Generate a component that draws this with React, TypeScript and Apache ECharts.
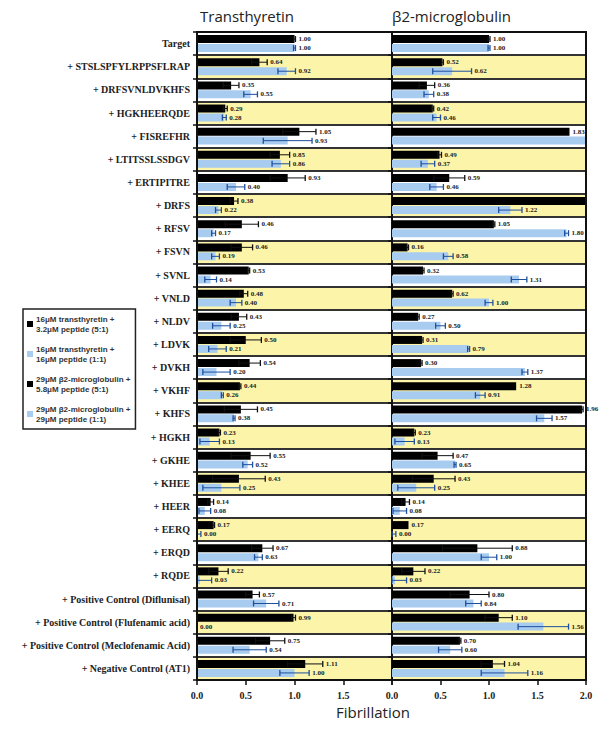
import React, { useEffect, useRef } from "react";
import * as echarts from "echarts";

const categories = [
  "Target",
  "+ STSLSPFYLRPPSFLRAP",
  "+ DRFSVNLDVKHFS",
  "+ HGKHEERQDE",
  "+ FISREFHR",
  "+ LTITSSLSSDGV",
  "+ ERTIPITRE",
  "+ DRFS",
  "+ RFSV",
  "+ FSVN",
  "+ SVNL",
  "+ VNLD",
  "+ NLDV",
  "+ LDVK",
  "+ DVKH",
  "+ VKHF",
  "+ KHFS",
  "+ HGKH",
  "+ GKHE",
  "+ KHEE",
  "+ HEER",
  "+ EERQ",
  "+ ERQD",
  "+ RQDE",
  "+ Positive Control (Diflunisal)",
  "+ Positive Control (Flufenamic acid)",
  "+ Positive Control (Meclofenamic Acid)",
  "+ Negative Control (AT1)",
];

const ttr51 = [1.0, 0.64, 0.35, 0.29, 1.05, 0.85, 0.93, 0.38, 0.46, 0.46, 0.53, 0.48, 0.43, 0.5, 0.54, 0.44, 0.45, 0.23, 0.55, 0.43, 0.14, 0.17, 0.67, 0.22, 0.57, 0.99, 0.75, 1.11];
const ttr51Err = [0.01, 0.08, 0.08, 0.02, 0.17, 0.1, 0.18, 0.04, 0.17, 0.11, 0.01, 0.04, 0.08, 0.16, 0.11, 0.01, 0.17, 0.01, 0.2, 0.27, 0.03, 0.01, 0.11, 0.1, 0.07, 0.02, 0.15, 0.18];
const ttr11 = [1.0, 0.92, 0.55, 0.28, 0.93, 0.86, 0.4, 0.22, 0.17, 0.19, 0.14, 0.4, 0.25, 0.21, 0.2, 0.26, 0.38, 0.13, 0.52, 0.25, 0.08, 0.0, 0.63, 0.03, 0.71, 0.0, 0.54, 1.0];
const ttr11Err = [0.01, 0.09, 0.07, 0.02, 0.25, 0.09, 0.09, 0.03, 0.02, 0.04, 0.06, 0.06, 0.09, 0.09, 0.14, 0.01, 0.01, 0.1, 0.05, 0.19, 0.06, 0.04, 0.04, 0.12, 0.13, 0.0, 0.17, 0.15];
const b2m51 = [1.0, 0.52, 0.36, 0.42, 1.83, 0.49, 0.59, 2.0, 1.05, 0.16, 0.32, 0.62, 0.27, 0.31, 0.3, 1.28, 1.96, 0.23, 0.47, 0.43, 0.14, 0.17, 0.88, 0.22, 0.8, 1.1, 0.7, 1.04];
const b2m51Err = [0.01, 0.01, 0.08, 0.01, 0.0, 0.02, 0.16, 0.0, 0.01, 0.01, 0.01, 0.01, 0.01, 0.01, 0.01, 0.0, 0.01, 0.01, 0.16, 0.22, 0.04, 0.0, 0.36, 0.12, 0.2, 0.14, 0.01, 0.12];
const b2m11 = [1.0, 0.62, 0.38, 0.46, 2.0, 0.37, 0.46, 1.22, 1.8, 0.58, 1.31, 1.0, 0.5, 0.79, 1.37, 0.91, 1.57, 0.13, 0.65, 0.25, 0.08, 0.0, 1.0, 0.03, 0.84, 1.56, 0.6, 1.16];
const b2m11Err = [0.01, 0.2, 0.05, 0.04, 0.0, 0.07, 0.07, 0.12, 0.02, 0.05, 0.08, 0.04, 0.05, 0.01, 0.03, 0.05, 0.08, 0.1, 0.01, 0.19, 0.07, 0.04, 0.08, 0.12, 0.08, 0.26, 0.12, 0.24];

const seriesNames = [
  "16μM transthyretin +\n3.2μM peptide (5:1)",
  "16μM transthyretin +\n16μM peptide (1:1)",
  "29μM β2-microglobulin +\n5.8μM peptide (5:1)",
  "29μM β2-microglobulin +\n29μM peptide (1:1)",
];
const panelTitles = ["Transthyretin", "β2-microglobulin"];
const xAxisTitle = "Fibrillation";

const BLACK = "#000000";
const BLUE = "#a8ccf0";
const DARKBLUE = "#1d4f9e";
const YELLOW = "#fbf4a9";
const SERIF = '"Liberation Serif", "Times New Roman", serif';

const G_LEFT = 197;
const G_MID = 392;
const G_RIGHT = 586;
const G_TOP = 32;
const G_BOTTOM = 680;

function errSeries(vals: number[], errs: number[], off: number, color: string, idx: number) {
  return {
    type: "custom",
    xAxisIndex: idx,
    yAxisIndex: idx,
    z: 5,
    silent: true,
    clip: false,
    data: vals.map((v, i) => [v, i, errs[i]]),
    renderItem: (params: any, api: any) => {
      const v = api.value(0);
      const cat = api.value(1);
      const e = api.value(2);
      const c = api.coord([v, cat]);
      const y = c[1] + off;
      const lo = api.coord([Math.max(0, v - e), cat])[0];
      const hi = api.coord([v + e, cat])[0];
      const h = 3;
      const children: any[] = [];
      if (v < 2) {
        if (e > 0) {
          children.push({ type: "line", shape: { x1: lo, y1: y, x2: hi, y2: y }, style: { stroke: color, lineWidth: 1 } });
          children.push({ type: "line", shape: { x1: hi, y1: y - h, x2: hi, y2: y + h }, style: { stroke: color, lineWidth: 1.3 } });
          children.push({ type: "line", shape: { x1: lo, y1: y - h, x2: lo, y2: y + h }, style: { stroke: color, lineWidth: 1.3 } });
        }
        children.push({
          type: "text",
          style: {
            text: v.toFixed(2),
            x: hi + 3,
            y: y,
            verticalAlign: "middle",
            align: "left",
            font: `bold 7px ${SERIF}`,
            fill: "#222",
          },
        });
      }
      return { type: "group", children };
    },
  };
}

function barSeries(name: string, vals: number[], color: string, idx: number) {
  return {
    type: "bar",
    name,
    xAxisIndex: idx,
    yAxisIndex: idx,
    data: vals,
    barWidth: 8,
    barGap: "12%",
    itemStyle: { color },
    z: 3,
  };
}

export default function App() {
  const ref = useRef<HTMLDivElement>(null);
  useEffect(() => {
    if (!ref.current) return;
    const chart = echarts.init(ref.current, undefined, { renderer: "svg" });
    const yAxisBase = (idx: number) => ({
      type: "category",
      gridIndex: idx,
      data: categories,
      inverse: true,
      boundaryGap: true,
      axisLine: { show: true, lineStyle: { color: "#111", width: 2 } },
      axisTick: { show: true, length: 4, lineStyle: { color: "#111", width: 1.5 } },
      axisLabel: {
        show: idx === 0,
        fontFamily: SERIF,
        fontWeight: "bold",
        fontSize: 10,
        color: "#222",
        margin: 7,
      },
      splitLine: { show: true, lineStyle: { color: "#333", width: 2 } },
      splitArea: { show: true, areaStyle: { color: ["#ffffff", YELLOW] } },
    });
    const xAxisBase = (idx: number) => ({
      type: "value",
      gridIndex: idx,
      min: 0,
      max: 2,
      interval: 0.5,
      axisLine: { show: true, lineStyle: { color: "#111", width: 2 } },
      axisTick: { show: true, length: 5, lineStyle: { color: "#111", width: 1.5 } },
      axisLabel: {
        fontFamily: SERIF,
        fontWeight: "bold",
        fontSize: 10,
        color: "#222",
        margin: 10,
        formatter: (v: number) => (idx === 0 && v === 2 ? "" : v.toFixed(1)),
      },
      splitLine: { show: false },
    });
    chart.setOption({
      animation: false,
      backgroundColor: "#ffffff",
      grid: [
        { left: G_LEFT, top: G_TOP, width: G_MID - G_LEFT, height: G_BOTTOM - G_TOP, containLabel: false },
        { left: G_MID, top: G_TOP, width: G_RIGHT - G_MID, height: G_BOTTOM - G_TOP, containLabel: false },
      ],
      xAxis: [xAxisBase(0), xAxisBase(1)],
      yAxis: [yAxisBase(0), yAxisBase(1)],
      legend: {
        data: seriesNames.map((n) => ({ name: n, icon: "rect" })),
        orient: "vertical",
        left: 23,
        top: 309,
        itemWidth: 6,
        itemHeight: 6,
        itemGap: 10,
        padding: [5, 5, 5, 4],
        borderColor: "#222",
        borderWidth: 1.5,
        selectedMode: false,
        textStyle: {
          fontFamily: '"Liberation Sans", Arial, sans-serif',
          fontWeight: "bold",
          fontSize: 8,
          lineHeight: 10,
          color: "#333",
          padding: [0, 0, 0, -2],
        },
      },
      graphic: [
        {
          type: "text",
          left: 200,
          top: 8,
          style: { text: panelTitles[0], font: '15px "Open Sans", sans-serif', fill: "#222" },
        },
        {
          type: "text",
          left: 392,
          top: 8,
          style: { text: panelTitles[1], font: '15px "Open Sans", sans-serif', fill: "#222" },
        },
        {
          type: "text",
          left: 336,
          top: 704,
          style: { text: xAxisTitle, font: '15px "Open Sans", sans-serif', fill: "#222" },
        },
        {
          type: "rect",
          z: 100,
          silent: true,
          shape: { x: G_LEFT, y: G_TOP, width: G_RIGHT - G_LEFT, height: G_BOTTOM - G_TOP },
          style: { fill: "none", stroke: "#111", lineWidth: 2 },
        },
      ],
      series: [
        barSeries(seriesNames[0], ttr51, BLACK, 0),
        barSeries(seriesNames[1], ttr11, BLUE, 0),
        barSeries(seriesNames[2], b2m51, BLACK, 1),
        barSeries(seriesNames[3], b2m11, BLUE, 1),
        errSeries(ttr51, ttr51Err, -4.5, "#111", 0),
        errSeries(ttr11, ttr11Err, 4.5, DARKBLUE, 0),
        errSeries(b2m51, b2m51Err, -4.5, "#111", 1),
        errSeries(b2m11, b2m11Err, 4.5, DARKBLUE, 1),
      ],
    });
    return () => chart.dispose();
  }, []);
  return (
    <div
      ref={ref}
      style={{ position: "absolute", left: 0, top: 0, width: 602, height: 730 }}
    />
  );
}
